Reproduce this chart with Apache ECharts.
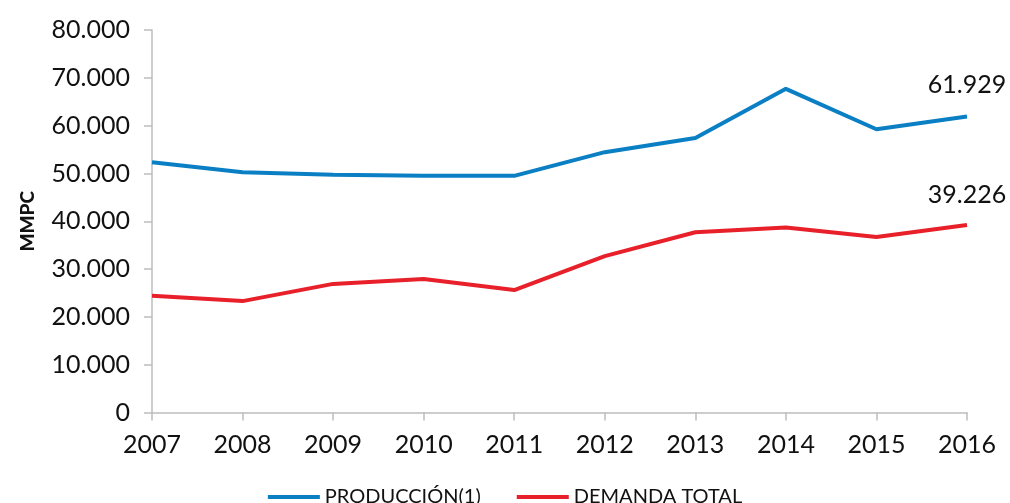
<!DOCTYPE html>
<html>
<head>
<meta charset="utf-8">
<script src="https://cdn.jsdelivr.net/npm/echarts@6/dist/echarts.min.js"></script>
<style>
  html, body { margin: 0; padding: 0; background: #fff; }
  #chart { width: 1010px; height: 503px; }
</style>
</head>
<body>
<div id="chart"></div>
<script>
// Años del periodo
const years = ['2007', '2008', '2009', '2010', '2011', '2012', '2013', '2014', '2015', '2016'];
// Producción de gas natural (MMPC)
const produccion = [52360, 50270, 49700, 49500, 49500, 54450, 57400, 67700, 59250, 61929];
// Demanda total de gas natural (MMPC)
const demanda = [24400, 23300, 26900, 27900, 25600, 32700, 37700, 38700, 36700, 39226];

const seriesNames = ['PRODUCCIÓN(1)', 'DEMANDA TOTAL'];
const seriesColors = ['#0a7fc4', '#e8202a'];

// Número con punto como separador de miles
function fmt(v) {
  return String(Math.round(v)).replace(/\B(?=(\d{3})+(?!\d))/g, '.');
}

const font = 'Lato, "Open Sans", sans-serif';
const textColor = '#111';
const chart = echarts.init(document.getElementById('chart'));

// Serie de línea; sólo el último punto lleva su valor como etiqueta
function lineSeries(name, data, color, labelGap) {
  return {
    name: name,
    type: 'line',
    data: data.map(function (v, i) {
      const item = { value: v };
      if (i === data.length - 1) {
        item.label = {
          show: true,
          position: 'top',
          distance: labelGap,
          color: textColor,
          fontFamily: font,
          fontSize: 25,
          formatter: function (p) { return fmt(p.value); }
        };
      }
      return item;
    }),
    symbol: 'circle',
    symbolSize: 0.1,
    showSymbol: true,
    smooth: false,
    lineStyle: { color: color, width: 4 },
    itemStyle: { color: color },
    label: { show: false }
  };
}

chart.setOption({
  animation: false,
  textStyle: { fontFamily: font },
  grid: { left: 152, right: 43, top: 30, bottom: 90.5, containLabel: false },
  legend: {
    data: seriesNames.map(function (n, i) {
      return { name: n, icon: 'rect', itemStyle: { color: seriesColors[i] } };
    }),
    left: 'center',
    top: 482,
    itemWidth: 52,
    itemHeight: 4,
    itemGap: 36,
    textStyle: { fontFamily: font, fontSize: 20, color: textColor }
  },
  xAxis: {
    type: 'category',
    data: years,
    boundaryGap: false,
    axisLine: { lineStyle: { color: '#bdbdbd', width: 1.5 } },
    axisTick: { show: true, length: 8, alignWithLabel: true, lineStyle: { color: '#bdbdbd', width: 1.5 } },
    axisLabel: { color: textColor, fontFamily: font, fontSize: 25, margin: 20 },
    splitLine: { show: false }
  },
  yAxis: {
    type: 'value',
    min: 0,
    max: 80000,
    interval: 10000,
    name: 'MMPC',
    nameLocation: 'middle',
    nameGap: 115,
    nameTextStyle: { color: textColor, fontFamily: font, fontSize: 19, fontWeight: 900 },
    axisLine: { show: true, lineStyle: { color: '#bdbdbd', width: 1.5 } },
    axisTick: { show: true, length: 8, lineStyle: { color: '#bdbdbd', width: 1.5 } },
    axisLabel: { color: textColor, fontFamily: font, fontSize: 25, margin: 22, formatter: fmt },
    splitLine: { show: false }
  },
  series: [
    lineSeries(seriesNames[0], produccion, seriesColors[0], 19),
    lineSeries(seriesNames[1], demanda, seriesColors[1], 17)
  ]
});
</script>
</body>
</html>
